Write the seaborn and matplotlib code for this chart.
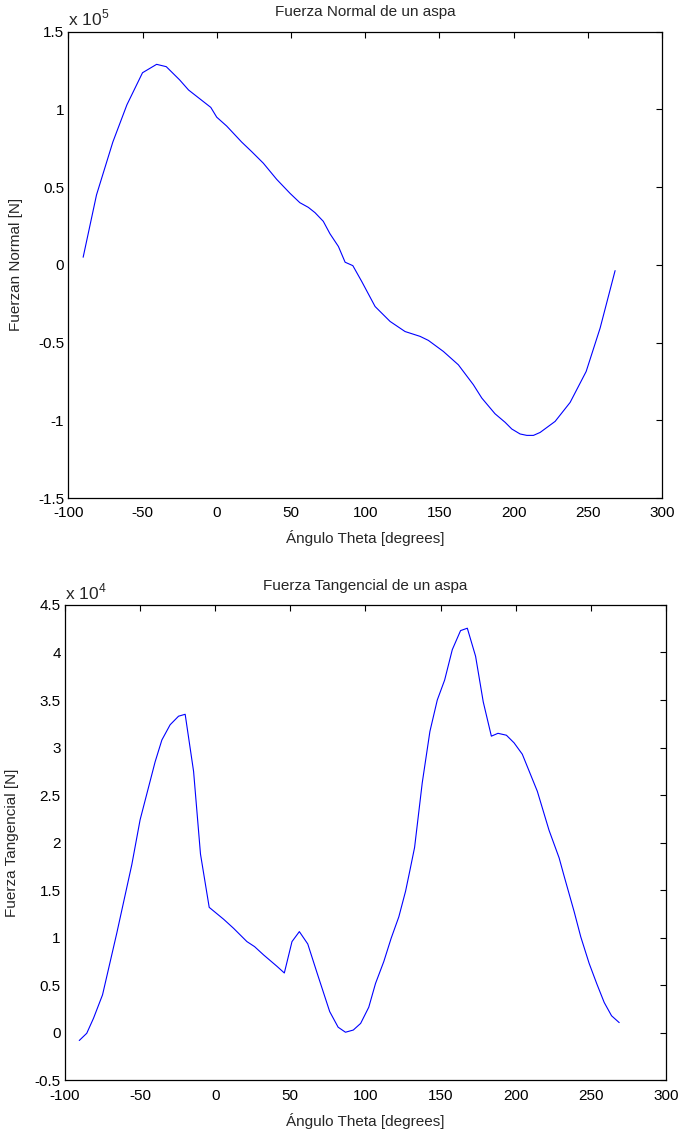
import numpy as np
import pandas as pd
import matplotlib
matplotlib.use("Agg")
import matplotlib.pyplot as plt
from matplotlib.ticker import FuncFormatter, MultipleLocator
import seaborn as sns

# ---- data ----
theta_normal = [-90, -81, -70, -60.5, -50, -40.5, -34, -25, -19, -4, 0, 6.7, 16.8, 23.6, 31.4,
                40.4, 49.4, 56, 61.7, 66.2, 71.8, 76.3, 82, 86.5, 91.7, 97.7, 106.7, 116.8,
                126.9, 137, 142.6, 152.7, 162.8, 172.9, 178.6, 187.5, 194.3, 198.8, 204.4,
                208.9, 213.4, 217.9, 228, 238.1, 248.9, 258.3, 268.4]
fuerza_normal = [0.049, 0.45, 0.79, 1.03, 1.236, 1.29, 1.275, 1.19, 1.125, 1.013, 0.95, 0.893,
                 0.79, 0.728, 0.654, 0.55, 0.46, 0.40, 0.37, 0.336, 0.28, 0.20, 0.118, 0.017,
                 -0.005, -0.107, -0.268, -0.364, -0.429, -0.46, -0.486, -0.557, -0.643, -0.771,
                 -0.857, -0.958, -1.013, -1.056, -1.088, -1.097, -1.097, -1.078, -1.007, -0.885,
                 -0.686, -0.407, -0.037]  # x 10^5 N

theta_tang = [-90.5, -85.5, -81, -75, -65.5, -55.5, -50, -40, -35.5, -30, -24.4, -20, -14.4,
              -9.8, -4, 5.6, 12.2, 21.1, 26.2, 32.2, 41.1, 46, 51.1, 56, 61.6, 67.8, 76.2,
              81.8, 86.7, 91.9, 96.8, 102.2, 106.7, 112.2, 117.1, 122.2, 126.7, 129.6, 132.7,
              137.8, 142.9, 147.8, 152.7, 157.8, 163.3, 167.8, 173.3, 178.4, 183.8, 188.2,
              193.8, 198.9, 204.4, 214.4, 222.2, 228.9, 232.2, 238.9, 243.3, 248.9, 254,
              258.9, 263.8, 268.9]
fuerza_tang = [-0.08, -0.004, 0.154, 0.40, 1.05, 1.77, 2.24, 2.85, 3.08, 3.24, 3.33, 3.35, 2.75,
               1.88, 1.32, 1.195, 1.10, 0.96, 0.907, 0.82, 0.70, 0.63, 0.96, 1.065, 0.935,
               0.63, 0.224, 0.06, 0.007, 0.03, 0.10, 0.27, 0.52, 0.75, 0.995, 1.22, 1.49, 1.71,
               1.95, 2.63, 3.17, 3.50, 3.71, 4.03, 4.23, 4.255, 3.96, 3.48, 3.12, 3.15, 3.13,
               3.05, 2.93, 2.54, 2.13, 1.84, 1.65, 1.275, 1.01, 0.73, 0.515, 0.32, 0.18, 0.108]  # x 10^4 N

scale_normal = 1e5
scale_tang = 1e4

df_n = pd.DataFrame({"theta": theta_normal, "F": np.array(fuerza_normal) * scale_normal})
df_t = pd.DataFrame({"theta": theta_tang, "F": np.array(fuerza_tang) * scale_tang})

sns.set_style("white")
plt.rcParams["font.family"] = ["Liberation Sans", "DejaVu Sans"]
plt.rcParams["font.size"] = 11
plt.rcParams["mathtext.fontset"] = "custom"
plt.rcParams["mathtext.rm"] = "Liberation Sans"

FS = 11

fig = plt.figure(figsize=(6.81, 11.36), dpi=100)
ax1 = fig.add_axes([0.1003, 0.5616, 0.8718, 0.4105])
ax2 = fig.add_axes([0.0954, 0.0489, 0.8825, 0.4186])


def style(ax, df, scale, ylim, ystep, exp, title, ylabel, ylpad):
    sns.lineplot(data=df, x="theta", y="F", ax=ax, color=(0, 0, 1), linewidth=0.8,
                 sort=False, estimator=None)
    ax.set_xlim(-100, 300)
    ax.set_ylim(ylim[0] * scale, ylim[1] * scale)
    ax.xaxis.set_major_locator(MultipleLocator(50))
    ax.yaxis.set_major_locator(MultipleLocator(ystep * scale))
    ax.yaxis.set_major_formatter(FuncFormatter(lambda v, p: "%g" % round(v / scale, 6)))
    ax.xaxis.set_major_formatter(FuncFormatter(lambda v, p: "%g" % v))
    ax.tick_params(direction="in", length=4, width=0.8, top=True, right=True,
                   labelsize=FS, colors="black")
    ax.tick_params(axis="x", pad=6)
    ax.tick_params(axis="y", pad=3)
    for s in ax.spines.values():
        s.set_visible(True)
        s.set_color("black")
        s.set_linewidth(0.9)
    ax.set_xlabel("Ángulo Theta [degrees]", fontsize=FS, labelpad=7)
    ax.set_ylabel(ylabel, fontsize=FS, labelpad=ylpad)
    ax.set_title(title, fontsize=FS, pad=11)
    ax.text(0.0, 1.006, r"x 10$^{%d}$" % exp, transform=ax.transAxes,
            fontsize=12.5, ha="left", va="bottom")
    ax.grid(False)


style(ax1, df_n, scale_normal, (-1.5, 1.5), 0.5, 5,
      "Fuerza Normal de un aspa", "Fuerzan Normal [N]", 11)
style(ax2, df_t, scale_tang, (-0.5, 4.5), 0.5, 4,
      "Fuerza Tangencial de un aspa", "Fuerza Tangencial [N]", 11)

fig.savefig("out.png", dpi=100, facecolor="white")
